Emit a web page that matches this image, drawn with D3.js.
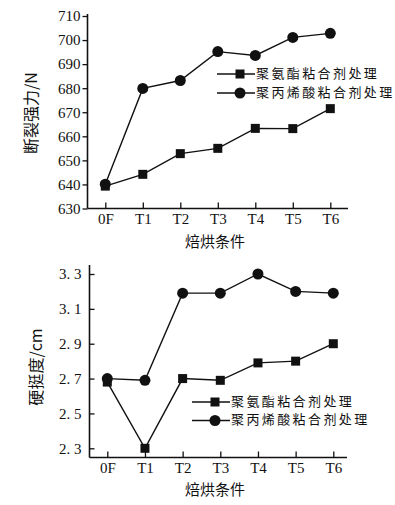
<!DOCTYPE html>
<html>
<head>
<meta charset="utf-8">
<script src="https://cdn.jsdelivr.net/npm/d3@7"></script>
<style>
  body { margin: 0; background: #fff; }
  svg { display: block; }
  .num { font-family: "Liberation Serif", "DejaVu Serif", serif; font-size: 15px; fill: #111; }
  .cjk { font-family: "Noto Sans CJK SC", sans-serif; fill: #111; }
</style>
</head>
<body>
<svg id="chart" width="395" height="505"></svg>
<script>
// categories along the x axis
var conditions = ['0F', 'T1', 'T2', 'T3', 'T4', 'T5', 'T6'];
var seriesNames = ['聚氨酯粘合剂处理', '聚丙烯酸粘合剂处理'];

// breaking strength (N)
var strengthPU = [639.3, 644.2, 652.8, 655.0, 663.3, 663.2, 671.5];
var strengthPA = [640.1, 679.9, 683.2, 695.2, 693.6, 701.1, 702.8];
var strengthTicks = [630, 640, 650, 660, 670, 680, 690, 700, 710];

// stiffness (cm)
var stiffPU = [2.68, 2.30, 2.70, 2.69, 2.79, 2.80, 2.90];
var stiffPA = [2.70, 2.69, 3.19, 3.19, 3.30, 3.20, 3.19];
var stiffTicks = [2.3, 2.5, 2.7, 2.9, 3.1, 3.3];

var svg = d3.select('#chart');

function drawPanel(opt) {
    var g = svg.append('g');

    var x = d3.scalePoint()
        .domain(conditions)
        .range(opt.xRange);
    var y = d3.scaleLinear()
        .domain(opt.yDomain)
        .range(opt.yRange);

    // axes
    var yAxis = d3.axisLeft(y)
        .tickValues(opt.ticks)
        .tickSize(opt.yTickSize)
        .tickPadding(opt.yTickSize > 0 ? 2 : 8)
        .tickFormat(opt.fmt);
    var ay = g.append('g')
        .attr('transform', 'translate(' + opt.x0 + ',0)')
        .call(yAxis);
    ay.select('.domain').attr('d', 'M0,' + opt.yTop + 'V' + opt.y0);

    var xAxis = d3.axisBottom(x)
        .tickSize(-6)
        .tickPadding(5);
    var ax = g.append('g')
        .attr('transform', 'translate(0,' + opt.y0 + ')')
        .call(xAxis);
    ax.select('.domain').attr('d', 'M' + opt.x0 + ',0H' + opt.xEnd);

    g.selectAll('.domain').attr('stroke', '#111').attr('stroke-width', 1.6);
    g.selectAll('.tick line').attr('stroke', '#111').attr('stroke-width', 1.3);
    g.selectAll('.tick text').attr('class', 'num').attr('font-size', null).attr('font-family', null).attr('fill', null);

    // axis titles
    g.append('text')
        .attr('class', 'cjk')
        .attr('x', opt.xTitle[0]).attr('y', opt.xTitle[1])
        .attr('text-anchor', 'middle')
        .attr('dominant-baseline', 'middle')
        .style('font-size', '15px')
        .text('焙烘条件');
    g.append('text')
        .attr('class', 'cjk')
        .attr('transform', 'translate(' + opt.yTitle[0] + ',' + opt.yTitle[1] + ') rotate(-90)')
        .attr('text-anchor', 'middle')
        .attr('dominant-baseline', 'middle')
        .style('font-size', '16px')
        .text(opt.yLabel);

    var line = d3.line()
        .x(function (d, i) { return x(conditions[i]); })
        .y(function (d) { return y(d); });

    // lines
    [opt.squares, opt.circles].forEach(function (vals) {
        g.append('path')
            .datum(vals)
            .attr('fill', 'none')
            .attr('stroke', '#111')
            .attr('stroke-width', 1.4)
            .attr('d', line);
    });

    // markers
    g.selectAll('.sq')
        .data(opt.squares)
        .enter().append('rect')
        .attr('x', function (d, i) { return x(conditions[i]) - 4.5; })
        .attr('y', function (d) { return y(d) - 4.5; })
        .attr('width', 9).attr('height', 9)
        .attr('fill', '#111');
    g.selectAll('.ci')
        .data(opt.circles)
        .enter().append('circle')
        .attr('cx', function (d, i) { return x(conditions[i]); })
        .attr('cy', function (d) { return y(d); })
        .attr('r', 5.5)
        .attr('fill', '#111');

    // legend
    seriesNames.forEach(function (name, i) {
        var ly = opt.legend[1] + i * opt.legendGap;
        var lx = opt.legend[0];
        g.append('line')
            .attr('x1', lx).attr('x2', lx + 38)
            .attr('y1', ly).attr('y2', ly)
            .attr('stroke', '#111').attr('stroke-width', 1.4);
        if (i === 0) {
            g.append('rect')
                .attr('x', lx + 23 - 4.5).attr('y', ly - 4.5)
                .attr('width', 9).attr('height', 9)
                .attr('fill', '#111');
        } else {
            g.append('circle')
                .attr('cx', lx + 23).attr('cy', ly)
                .attr('r', 5.5).attr('fill', '#111');
        }
        g.append('text')
            .attr('class', 'cjk')
            .attr('x', lx + 39).attr('y', ly)
            .attr('dominant-baseline', 'middle')
            .style('font-size', '13px')
            .style('letter-spacing', '2.4px')
            .text(name);
    });
}

drawPanel({
    xRange: [105.3, 330.3],
    yDomain: [630, 710],
    yRange: [208.5, 16],
    x0: 87.5, y0: 208.5, yTop: 14, xEnd: 348,
    ticks: strengthTicks,
    yTickSize: 5,
    fmt: d3.format('d'),
    squares: strengthPU,
    circles: strengthPA,
    xTitle: [215, 243],
    yTitle: [33, 113],
    yLabel: '断裂强力/N',
    legend: [217, 74],
    legendGap: 19
});

drawPanel({
    xRange: [107.3, 333.3],
    yDomain: [2.3, 3.3],
    yRange: [448.3, 274],
    x0: 89.5, y0: 457.5, yTop: 265, xEnd: 347,
    ticks: stiffTicks,
    yTickSize: -5,
    fmt: function (d) { return d.toFixed(1).replace('.', '. '); },
    squares: stiffPU,
    circles: stiffPA,
    xTitle: [215, 491],
    yTitle: [38, 367],
    yLabel: '硬挺度/cm',
    legend: [192, 402],
    legendGap: 18.5
});
</script>
</body>
</html>
